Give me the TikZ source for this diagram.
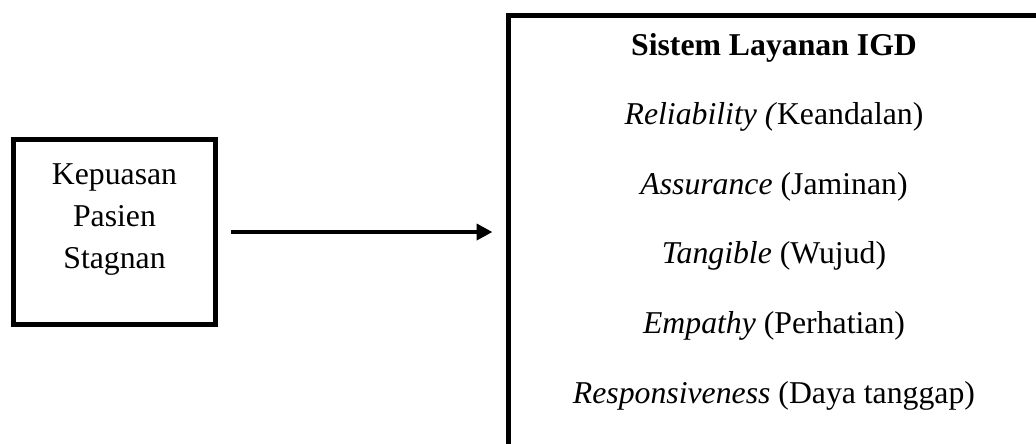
\documentclass[tikz,border=0pt]{standalone}
\usepackage{fontspec}
\setmainfont{Liberation Serif}
\usetikzlibrary{arrows.meta}

\begin{document}
\begin{tikzpicture}[
        x=0.4pt, y=-0.4pt,
        font=\fontsize{12.7}{16.8}\selectfont,
        box/.style={rectangle, draw, line width=2pt, inner sep=0pt},
        txt/.style={anchor=base, inner sep=0pt},
        arrow/.style={-{Triangle[length=6.4pt, width=6.4pt]}, line width=1.6pt}
    ]
        \clip (0,0) rectangle (1036,443);

        % Left box
        \node[box, minimum width=80.8pt, minimum height=74pt] (kepuasan) at (114.5,232) {};
        \node[txt, align=center] (kepuasantext) at (114.5,268) {Kepuasan\\Pasien\\Stagnan};

        % Right box (runs past the page)
        \node[box, anchor=north west, minimum width=216pt, minimum height=180pt] (sistem) at (505.5,13) {};
        \node[txt] (judul) at (774,55) {\textbf{Sistem Layanan IGD}};
        \node[txt] (reliability) at (774,124.6) {\textit{Reliability (}Keandalan)};
        \node[txt] (assurance) at (774,194.2) {\textit{Assurance} (Jaminan)};
        \node[txt] (tangible) at (774,263.8) {\textit{Tangible} (Wujud)};
        \node[txt] (empathy) at (774,333.4) {\textit{Empathy} (Perhatian)};
        \node[txt] (responsiveness) at (774,403) {\textit{Responsiveness} (Daya tanggap)};

        % Arrow
        \draw[arrow, shorten <=5.2pt, shorten >=5.2pt] (kepuasan.east) -- (kepuasan.east -| sistem.west);

    \end{tikzpicture}
\end{document}
